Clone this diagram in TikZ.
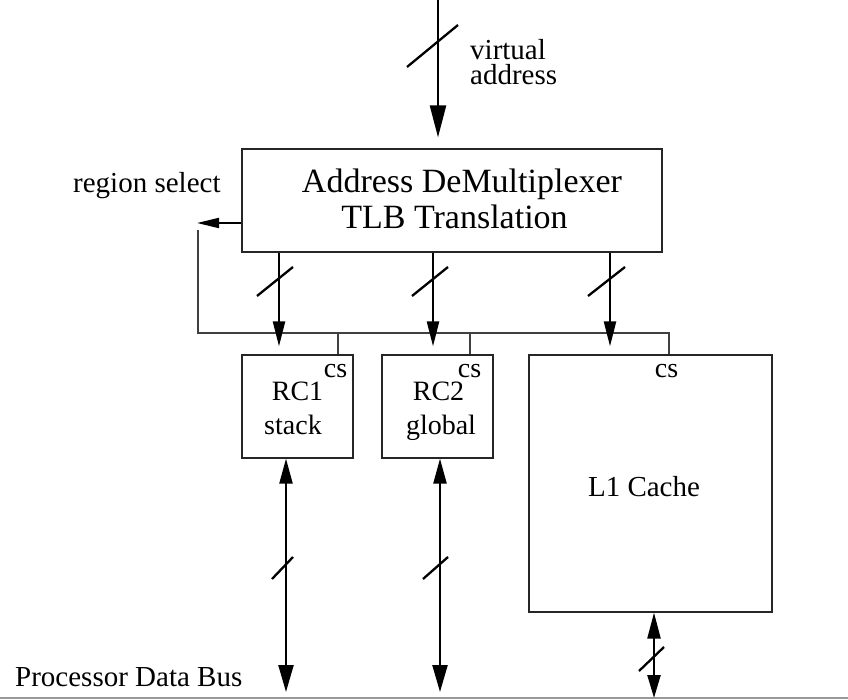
\documentclass[tikz,border=0pt]{standalone}
\usepackage{fontspec}
\setmainfont{Liberation Serif}
\usetikzlibrary{arrows.meta,calc}

\begin{document}
\begin{tikzpicture}[x=1pt,y=-1pt,
  blk/.style={draw=black!85, line width=1.2pt, rectangle, inner sep=0pt},
  wire/.style={draw=black!75, line width=1.1pt},
  bus/.style={line width=2.3pt},
  tickline/.style={line width=2.3pt},
  txt/.style={inner sep=0pt, font=\fontsize{29}{29}\selectfont},
  small/.style={inner sep=0pt, font=\fontsize{28}{28}\selectfont},
  big/.style={inner sep=0pt, font=\fontsize{34}{34}\selectfont},
  headBig/.style={-{Triangle[length=32pt,width=16pt]}},
  headMid/.style={-{Triangle[length=25pt,width=12pt]}},
  headBus/.style={{Triangle[length=25pt,width=13pt]}-{Triangle[length=27pt,width=15pt]}},
  headL/.style={{Triangle[length=26pt,width=13pt]}-{Triangle[length=23pt,width=13pt]}},
]
\useasboundingbox (0,0) rectangle (848,700);

% blocks
\node[blk, minimum width=420pt, minimum height=103pt] (demux) at (452,200.5) {};
\node[blk, minimum width=111pt, minimum height=103pt] (rc1) at (297.5,406.5) {};
\node[blk, minimum width=111pt, minimum height=103pt] (rc2) at (437.5,406.5) {};
\node[blk, minimum width=243pt, minimum height=257pt] (l1) at (650.5,483.5) {};

% block texts
\node[big, anchor=base] (t1) at (462,193) {Address DeMultiplexer};
\node[big, anchor=base] (t2) at (454.5,229) {TLB Translation};
\node[small, anchor=base] (r1a) at (297.5,400) {RC1};
\node[small, anchor=base] (r1b) at (293,434) {stack};
\node[small, anchor=base] (r2a) at (438.5,400) {RC2};
\node[small, anchor=base] (r2b) at (441,434) {global};
\node[txt, anchor=base] (l1t) at (644,496) {L1 Cache};
\node[small, anchor=base] (cs1) at (335.5,377) {cs};
\node[small, anchor=base] (cs2) at (469.5,377) {cs};
\node[small, anchor=base] (cs3) at (666.5,377) {cs};

% free labels (the input label is two closely stacked lines)
\node[inner sep=0pt, anchor=north west, align=left,
      font=\fontsize{29}{25}\selectfont] (va) at (470,39.5) {virtual\\address};
\node[txt, anchor=base west] (rsel) at (73,193) {region select};
\node[txt, anchor=base west] (pdb) at (15,686) {Processor Data Bus};

% virtual address input
\coordinate (vin) at (438,0);
\draw[bus, headBig, shorten >=11pt] (vin) -- (vin |- demux.north);
\draw[tickline] (407,67) -- (458,25);

% region select output and its return path to the chip-select line
\coordinate (rs) at (197,223);
\draw[line width=2pt, -{Triangle[length=22pt,width=10pt]}] (demux.west |- rs) -- (rs);
\coordinate (fb) at (198,230);
\coordinate (busR) at (669,333);
\draw[wire] (fb) -- (fb |- busR) -- (busR) -- (busR |- l1.north);
\coordinate (s1) at (338,333);
\coordinate (s2) at (470,333);
\draw[wire] (s1) -- (s1 |- rc1.north);
\draw[wire] (s2) -- (s2 |- rc2.north);

% translated address buses
\coordinate (d1) at (279,0);
\coordinate (d2) at (433,0);
\coordinate (d3) at (610,0);
\draw[bus, headMid, shorten >=8pt] (demux.south -| d1) -- (d1 |- rc1.north);
\draw[bus, headMid, shorten >=8pt] (demux.south -| d2) -- (d2 |- rc2.north);
\draw[bus, headMid, shorten >=8pt] (demux.south -| d3) -- (d3 |- l1.north);
\draw[tickline] (257,296) -- (293,267);
\draw[tickline] (412,296) -- (448,267);
\draw[tickline] (588,296) -- (625,267);

% processor data bus
\coordinate (pbL) at (0,698);
\coordinate (pbR) at (848,698);
\draw[draw=black!40, line width=1.4pt] (pbL) -- (pbR);

\coordinate (u1) at (286,692);
\coordinate (u2) at (440,692);
\coordinate (u3) at (654,698);
\draw[bus, headBus] (u1 |- rc1.south) -- (u1);
\draw[bus, headBus] (u2 |- rc2.south) -- (u2);
\draw[bus, headL] (u3 |- l1.south) -- (u3);
\draw[tickline] (272,579) -- (293,557);
\draw[tickline] (423,579) -- (448,557);
\draw[tickline] (639,671) -- (664,647);
\end{tikzpicture}
\end{document}
